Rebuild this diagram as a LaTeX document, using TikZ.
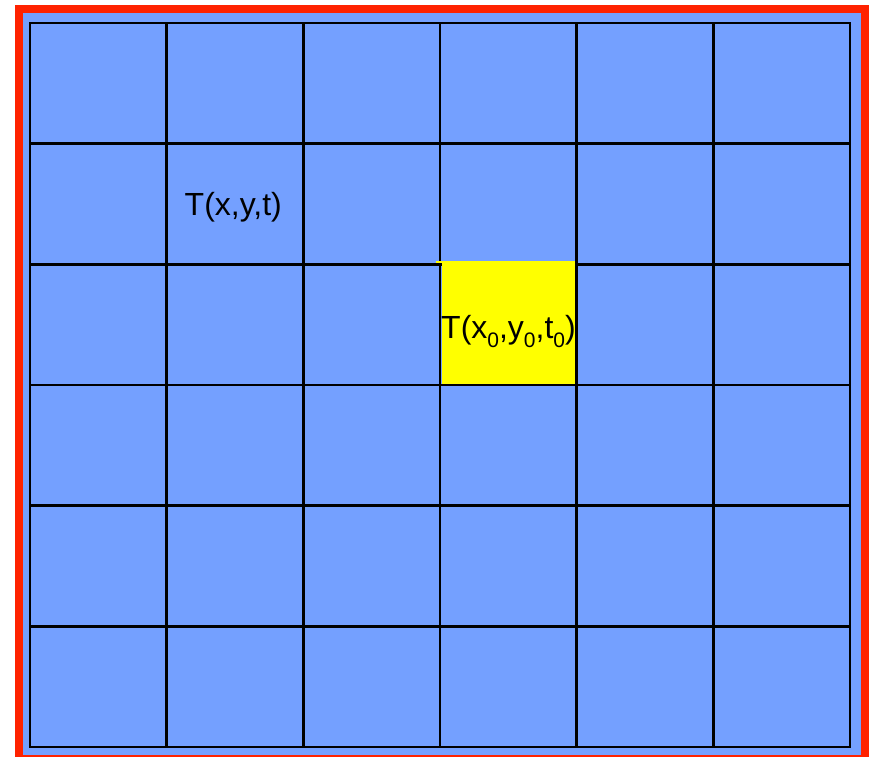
\documentclass[tikz,border=0pt]{standalone}
\usepackage{fontspec}
\setmainfont{Liberation Sans}
\definecolor{cellblue}{RGB}{116,160,255}
\definecolor{frame}{RGB}{255,34,0}
\definecolor{hilite}{RGB}{255,255,0}
\newcommand\subz[1]{\raisebox{-0.28em}{\fontsize{21}{21}\selectfont #1}}
\tikzset{
  gridline/.style={black, line width=2.4pt},
  lbl/.style={inner sep=0pt, anchor=base west, font=\fontsize{32}{32}\selectfont}
}
\begin{document}
\begin{tikzpicture}[x=1pt, y=-1pt]
\useasboundingbox (0,0) rectangle (871,757);
% outer frame
\draw[frame, line width=8pt, fill=cellblue] (19,9) rectangle (865,759);
% grid
\foreach \i in {0,...,6} {
  \draw[gridline] ({30+\i*136.667},23) -- ({30+\i*136.667},747);
  \draw[gridline] (30,{23+\i*120.667}) -- (850,{23+\i*120.667});
}
\draw[gridline, line cap=rect] (30,23) rectangle (850,747);
% highlighted cell
\fill[hilite] (441.6,260.5) rectangle (575.4,383.8);
\fill[hilite] (436,260.5) rectangle (441.6,262.6);
% labels
\node[lbl] (gen) at (184.5,215.5) {T(x,y,t)};
\node[lbl] (cur) at (441,338.5) {T(x\subz{0},y\subz{0},t\subz{0})};
\end{tikzpicture}
\end{document}
